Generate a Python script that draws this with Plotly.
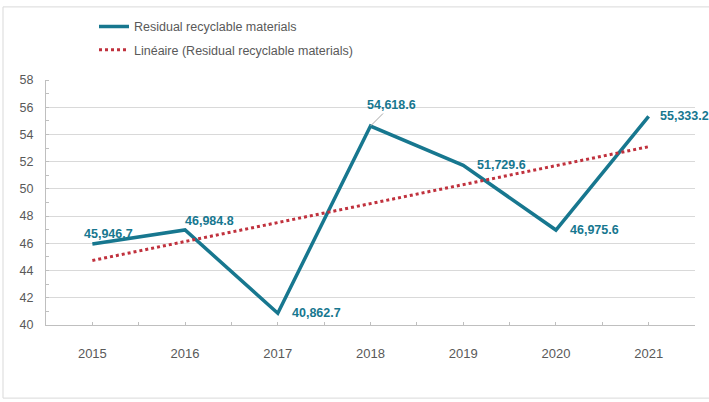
import plotly.graph_objects as go

years = [2015, 2016, 2017, 2018, 2019, 2020, 2021]
values = [45.9467, 46.9848, 40.8627, 54.6186, 51.7296, 46.9756, 55.3332]
labels = ["45,946.7", "46,984.8", "40,862.7", "54,618.6", "51,729.6", "46,975.6", "55,333.2"]
trend_years = [2015, 2021]
trend_values = [44.74, 53.10]
y_ticks = [40, 42, 44, 46, 48, 50, 52, 54, 56, 58]

teal = "#17778F"
red = "#C0313D"
grey_text = "#595959"

T, B = 77, 77
PH = 402 - T - B
BOT = 402 - B

fig = go.Figure()
fig.add_trace(go.Scatter(
    x=years, y=values, mode="lines", name="Residual recyclable materials",
    line=dict(color=teal, width=3.5), legendgroup="a"))
fig.add_trace(go.Scatter(
    x=trend_years, y=trend_values, mode="lines",
    name="Linéaire (Residual recyclable materials)",
    line=dict(color=red, width=3, dash="dot"), legendgroup="b"))

# label placement offsets (pixels)
label_pos = [
    dict(xanchor="left", xshift=-10, yshift=10),
    dict(xanchor="left", xshift=-2, yshift=9),
    dict(xanchor="left", xshift=12, yshift=0),
    None,
    dict(xanchor="left", xshift=12, yshift=0),
    dict(xanchor="left", xshift=12, yshift=0),
    dict(xanchor="left", xshift=9, yshift=0),
]
for yr, v, t, p in zip(years, values, labels, label_pos):
    font = dict(family="Liberation Sans", size=12.5, color=teal, weight="bold")
    if p is None:
        fig.add_annotation(x=yr, y=v, xref="x", yref="y", text="<b>" + t + "</b>",
                           showarrow=True, arrowhead=0, arrowwidth=1, arrowcolor="#A6A6A6",
                           ax=21, ay=-21, font=font, standoff=0)
    else:
        fig.add_annotation(x=yr, y=v, xref="x", yref="y", text="<b>" + t + "</b>",
                           showarrow=False, yanchor="middle", font=font, **p)

# outer chart border
fig.add_shape(type="rect", xref="paper", yref="paper",
              x0=(3 - 46) / 649, x1=(712 - 46) / 649,
              y0=(BOT - 399) / PH, y1=(BOT - 3) / PH,
              line=dict(color="#D9D9D9", width=1), layer="below")

fig.update_layout(
    width=709, height=402,
    margin=dict(l=46, r=14, t=T, b=B),
    paper_bgcolor="white", plot_bgcolor="white",
    font=dict(family="Liberation Sans", size=12, color=grey_text),
    showlegend=True,
    legend=dict(x=(94 - 46) / 649, y=(BOT - 8) / PH, xanchor="left", yanchor="top",
                traceorder="grouped", tracegroupgap=4,
                font=dict(size=12.5, color=grey_text), bgcolor="rgba(0,0,0,0)"),
    xaxis=dict(range=[2014.5, 2021.5], tickvals=years, ticktext=[str(y) for y in years],
               showgrid=False, zeroline=False, showline=True, linecolor="#BFBFBF", linewidth=1,
               ticks="inside", ticklen=3, tickcolor="#BFBFBF",
               minor=dict(tick0=2014.5, dtick=1, ticks="inside", ticklen=3, tickcolor="#BFBFBF", showgrid=False),
               tickfont=dict(size=13, color=grey_text), ticklabelstandoff=16,
               automargin=False, fixedrange=True),
    yaxis=dict(range=[40, 58], tickvals=y_ticks, showgrid=True, gridcolor="#D9D9D9", gridwidth=1,
               zeroline=False, showline=True, linecolor="#BFBFBF", linewidth=1,
               ticks="", minor=dict(dtick=1, tick0=41, ticks="inside", ticklen=3, tickcolor="#BFBFBF", showgrid=False),
               tickfont=dict(size=12.5, color=grey_text), ticklabelstandoff=9,
               automargin=False),
)

fig.write_html("out.html")
